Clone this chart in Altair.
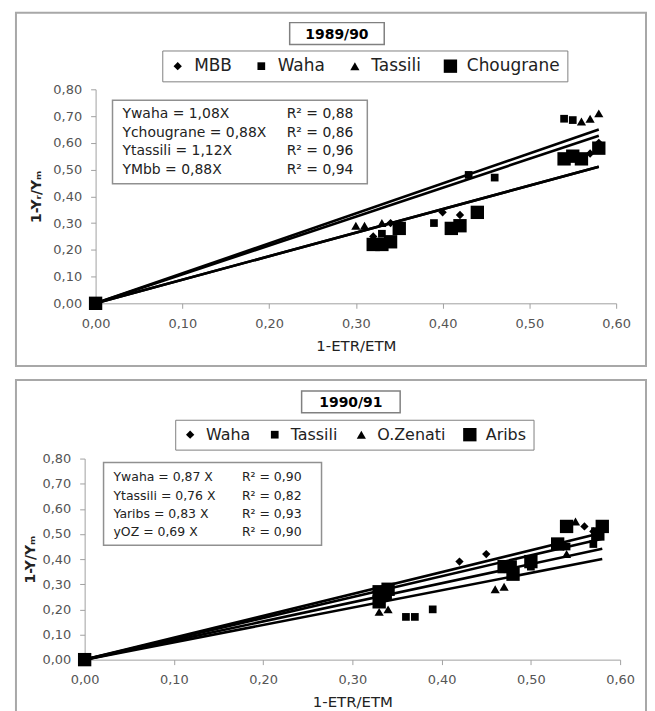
import altair as alt
import pandas as pd

# ---------------- 1989/90 ----------------
p1_year = "1989/90"
p1_names = ["MBB", "Waha", "Tassili", "Chougrane"]
p1_shapes = ["diamond", "square", "triangle-up", "square"]
p1_sizes = [70, 60, 85, 180]
p1_mbb_x = [0.00, 0.32, 0.34, 0.40, 0.42, 0.57, 0.58]
p1_mbb_y = [0.00, 0.25, 0.30, 0.34, 0.33, 0.56, 0.60]
p1_waha_x = [0.00, 0.33, 0.39, 0.43, 0.46, 0.54, 0.55]
p1_waha_y = [0.00, 0.26, 0.30, 0.48, 0.47, 0.69, 0.685]
p1_tassili_x = [0.00, 0.30, 0.31, 0.33, 0.56, 0.57, 0.58]
p1_tassili_y = [0.00, 0.29, 0.29, 0.30, 0.68, 0.69, 0.71]
p1_chougrane_x = [0.00, 0.32, 0.33, 0.34, 0.35, 0.41, 0.42, 0.44, 0.54, 0.55, 0.56, 0.58]
p1_chougrane_y = [0.00, 0.22, 0.22, 0.23, 0.28, 0.28, 0.29, 0.34, 0.54, 0.55, 0.54, 0.58]
p1_slopes = [0.88, 1.08, 1.12, 0.88]
p1_eq = ["Ywaha =  1,08X", "Ychougrane = 0,88X", "Ytassili = 1,12X", "YMbb = 0,88X"]
p1_r2 = ["R\u00b2 = 0,88", "R\u00b2 = 0,86", "R\u00b2 = 0,96", "R\u00b2 = 0,94"]
p1_ytitle = "1-Y\u1d63/Y\u2098"

# ---------------- 1990/91 ----------------
p2_year = "1990/91"
p2_names = ["Waha", "Tassili", "O.Zenati", "Aribs"]
p2_shapes = ["diamond", "square", "triangle-up", "square"]
p2_sizes = [70, 60, 85, 180]
p2_waha_x = [0.00, 0.33, 0.42, 0.45, 0.47, 0.56, 0.57]
p2_waha_y = [0.00, 0.26, 0.39, 0.42, 0.36, 0.53, 0.51]
p2_tassili_x = [0.00, 0.34, 0.36, 0.37, 0.39, 0.48, 0.50, 0.54, 0.57]
p2_tassili_y = [0.00, 0.25, 0.17, 0.17, 0.20, 0.38, 0.37, 0.45, 0.46]
p2_oz_x = [0.00, 0.33, 0.34, 0.46, 0.47, 0.54, 0.55]
p2_oz_y = [0.00, 0.19, 0.20, 0.28, 0.29, 0.42, 0.55]
p2_aribs_x = [0.00, 0.33, 0.34, 0.33, 0.47, 0.48, 0.50, 0.53, 0.54, 0.575, 0.58]
p2_aribs_y = [0.00, 0.27, 0.28, 0.23, 0.37, 0.34, 0.39, 0.46, 0.53, 0.50, 0.53]
p2_slopes = [0.87, 0.76, 0.69, 0.83]
p2_eq = ["Ywaha = 0,87 X", "Ytassili = 0,76 X", "Yaribs = 0,83 X", "yOZ = 0,69 X"]
p2_r2 = ["R\u00b2 = 0,90", "R\u00b2 = 0,82", "R\u00b2 = 0,93", "R\u00b2 = 0,90"]
p2_ytitle = "1-Y/Y\u2098"

x_ticks = [0.0, 0.1, 0.2, 0.3, 0.4, 0.5, 0.6]
y_ticks = [0.0, 0.1, 0.2, 0.3, 0.4, 0.5, 0.6, 0.7, 0.8]
line_end = 0.58

FONT = "DejaVu Sans"
LABEL = "replace(format(datum.value, '.2f'), '.', ',')"


def points_df(names, xs_list, ys_list):
    rows = []
    for name, xs, ys in zip(names, xs_list, ys_list):
        for x, y in zip(xs, ys):
            rows.append({"series": name, "x": x, "y": y})
    return pd.DataFrame(rows)


def lines_df(names, slopes):
    rows = []
    for name, s in zip(names, slopes):
        rows.append({"series": name, "slope": s, "x": 0.0})
        rows.append({"series": name, "slope": s, "x": line_end})
    return pd.DataFrame(rows)


def panel(pts, lns, names, shapes, sizes, year, ytitle, eq, r2, g):
    one = pd.DataFrame({"k": [0]})
    xscale = alt.Scale(domain=[0, 0.6], range=g["xrange"], nice=False, zero=False)
    yscale = alt.Scale(domain=[0, 0.8], nice=False)
    xaxis = alt.Axis(values=x_ticks, labelExpr=LABEL, title="1-ETR/ETM", grid=False,
                     tickSize=5, labelPadding=9, titlePadding=8, titleFontWeight="normal",
                     titleFontSize=15, labelFlush=False)
    yaxis = alt.Axis(values=y_ticks, labelExpr=LABEL, title=ytitle, grid=False,
                     tickSize=5, labelPadding=9, titlePadding=g["ytp"], offset=g["yoff"],
                     titleFontWeight="bold", titleFontSize=14, labelFlush=False)
    fx0, fx1, fy0, fy1 = g["frame"]
    frame = alt.Chart(one).mark_rect(fillOpacity=0, stroke="#a8a8a8", strokeWidth=2).encode(
        x=alt.value(fx0), x2=alt.value(fx1), y=alt.value(fy0), y2=alt.value(fy1))
    tx0, tx1, ty0, ty1 = g["tbox"]
    tbox = alt.Chart(one).mark_rect(fill="white", stroke="#808080", strokeWidth=1.5).encode(
        x=alt.value(tx0), x2=alt.value(tx1), y=alt.value(ty0), y2=alt.value(ty1))
    ttext = alt.Chart(one).mark_text(font=FONT, fontSize=14, fontWeight="bold",
                                     align="center", baseline="middle", color="black").encode(
        x=alt.value((tx0 + tx1) / 2), y=alt.value((ty0 + ty1) / 2 + 1), text=alt.value(year))
    ex0, ex1, ey0, ey1 = g["ebox"]
    ebox = alt.Chart(one).mark_rect(fill="white", stroke="#909090", strokeWidth=1.5).encode(
        x=alt.value(ex0), x2=alt.value(ex1), y=alt.value(ey0), y2=alt.value(ey1))
    eqtext = alt.Chart(one).mark_text(font=FONT, fontSize=g["efs"], lineHeight=g["elh"],
                                      align="left", baseline="middle", color="#222").encode(
        x=alt.value(g["eqx"]), y=alt.value(ey0 + g["efirst"]), text=alt.value(eq))
    r2text = alt.Chart(one).mark_text(font=FONT, fontSize=g["efs"], lineHeight=g["elh"],
                                      align="left", baseline="middle", color="#222").encode(
        x=alt.value(g["r2x"]), y=alt.value(ey0 + g["efirst"]), text=alt.value(r2))
    lines = alt.Chart(lns).transform_calculate(y="datum.slope * datum.x").mark_line(
        color="black", strokeWidth=2.6).encode(
        x=alt.X("x:Q", scale=xscale, axis=xaxis),
        y=alt.Y("y:Q", scale=yscale, axis=yaxis),
        detail="series:N")
    legend = alt.Legend(orient="none", legendX=g["leg"][0], legendY=g["leg"][1],
                        direction="horizontal", strokeColor="#808080", fillColor="white",
                        padding=7, labelFontSize=g["lfs"], labelFont=FONT, labelColor="#222",
                        labelOffset=8, columnPadding=g["colpad"], symbolStrokeWidth=0,
                        symbolFillColor="black", symbolOpacity=1)
    dots = alt.Chart(pts).mark_point(filled=True, opacity=1, color="black", strokeWidth=0).encode(
        x=alt.X("x:Q", scale=xscale, axis=xaxis),
        y=alt.Y("y:Q", scale=yscale, axis=yaxis),
        shape=alt.Shape("series:N", scale=alt.Scale(domain=names, range=shapes),
                        legend=legend, title=None),
        size=alt.Size("series:N", scale=alt.Scale(type="ordinal", domain=names, range=sizes),
                      legend=legend, title=None))
    return alt.layer(frame, tbox, ttext, ebox, eqtext, r2text, lines, dots).properties(
        width=g["W"], height=g["H"])


g1 = dict(W=523, H=215, xrange=[0, 523], yoff=0, ytp=9,
          frame=(-80, 553, -77, 278), tbox=(195, 290, -67, -45), leg=(67, -39), colpad=21,
          lfs=17, ebox=(17, 273, 11, 95), eqx=27, r2x=192, efs=14, elh=18.7, efirst=14)
g2 = dict(W=527, H=202, xrange=[-11, 527], yoff=11, ytp=4,
          frame=(-80, 553, -79, 268), tbox=(207, 306, -68, -46), leg=(80, -39), colpad=16,
          lfs=16, ebox=(8, 227, 4, 87), eqx=18, r2x=147, efs=12.5, elh=18.3, efirst=15)

pts1 = points_df(p1_names, [p1_mbb_x, p1_waha_x, p1_tassili_x, p1_chougrane_x],
                 [p1_mbb_y, p1_waha_y, p1_tassili_y, p1_chougrane_y])
pts2 = points_df(p2_names, [p2_waha_x, p2_tassili_x, p2_oz_x, p2_aribs_x],
                 [p2_waha_y, p2_tassili_y, p2_oz_y, p2_aribs_y])

c1 = panel(pts1, lines_df(p1_names, p1_slopes), p1_names, p1_shapes, p1_sizes,
           p1_year, p1_ytitle, p1_eq, p1_r2, g1)
c2 = panel(pts2, lines_df(p2_names, p2_slopes), p2_names, p2_shapes, p2_sizes,
           p2_year, p2_ytitle, p2_eq, p2_r2, g2)

chart = alt.vconcat(c1, c2, spacing=12).resolve_scale(
    x="independent", y="independent", shape="independent", size="independent"
).resolve_legend(shape="independent", size="independent").properties(
    padding={"left": 7, "top": 2, "right": 0, "bottom": 0}
).configure_view(strokeWidth=0).configure_axis(
    labelFont=FONT, labelFontSize=13, labelColor="#555555", titleFont=FONT,
    titleColor="#222222", domainColor="#a0a0a0", tickColor="#a0a0a0"
)

chart.save("out.html", embed_options={"renderer": "svg", "actions": False})
